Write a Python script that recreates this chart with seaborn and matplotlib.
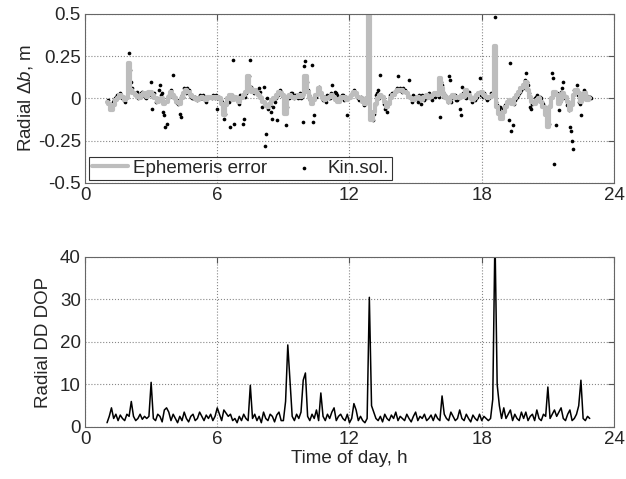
import numpy as np
import pandas as pd
import matplotlib
matplotlib.use('Agg')
import matplotlib.pyplot as plt
import seaborn as sns

# time of day grid, h (one value every 0.1 h, 1.0 ... 22.9)
t = np.round(np.arange(1.0, 22.95, 0.1), 2)

# ephemeris error, m
eph_err = [
    -0.02, -0.03, -0.07, -0.04, -0.01, 0.00, 0.02, 0.01, -0.01, 0.00,
    0.21, 0.05, 0.03, 0.02, 0.01, 0.00, 0.02, 0.03, 0.01, 0.04,
    0.04, 0.02, 0.00, -0.02, -0.01, 0.00, -0.03, -0.02, 0.01, 0.04,
    0.02, 0.00, -0.02, -0.03, 0.00, 0.03, 0.05, 0.04, 0.02, 0.01,
    0.00, -0.01, 0.00, 0.01, 0.00, -0.01, 0.01, 0.00, 0.01, 0.00,
    0.01, 0.00, -0.03, -0.10, -0.04, 0.00, 0.02, -0.01, 0.01, 0.00,
    -0.02, 0.00, 0.02, 0.04, 0.13, 0.06, 0.04, 0.05, 0.03, 0.02,
    0.00, -0.02, -0.04, -0.05, -0.03, -0.01, 0.00, 0.02, 0.04, 0.03,
    0.02, -0.09, 0.01, 0.02, 0.01, 0.00, 0.01, 0.02, 0.01, 0.02,
    0.13, 0.04, 0.00, -0.03, -0.01, 0.02, 0.06, 0.03, 0.00, -0.01,
    0.00, 0.01, 0.02, 0.01, -0.01, -0.02, 0.00, 0.01, 0.00, -0.01,
    0.00, 0.02, 0.04, 0.03, 0.01, 0.00, -0.02, -0.03, 0.00, 0.60,
    -0.13, -0.08, -0.03, 0.00, 0.02, 0.01, -0.02, -0.05, -0.03, 0.00,
    0.02, 0.04, 0.05, 0.05, 0.05, 0.04, 0.03, 0.01, 0.00, -0.01,
    0.00, 0.01, 0.00, -0.01, 0.01, 0.02, 0.00, 0.01, 0.02, 0.03,
    0.02, 0.12, 0.06, 0.02, 0.00, -0.02, 0.01, 0.02, 0.00, 0.01,
    0.00, 0.02, 0.01, 0.05, 0.02, 0.00, -0.01, 0.00, 0.02, 0.03,
    0.04, 0.02, 0.01, 0.00, 0.01, 0.02, 0.31, -0.05, -0.09, -0.12,
    -0.08, -0.05, -0.02, -0.01, -0.03, 0.00, 0.02, 0.04, 0.06, 0.08,
    0.10, 0.05, 0.01, -0.02, -0.03, -0.01, 0.00, -0.02, -0.05, -0.10,
    -0.17, -0.05, 0.00, 0.04, 0.02, -0.03, -0.01, 0.03, 0.01, -0.02,
    -0.07, -0.04, 0.02, 0.05, 0.03, -0.02, 0.01, 0.03, -0.01, 0.00,
]

# kinematic solution, m, at t
kin_a = [
    -0.02, -0.03, -0.04, -0.01, 0.01, 0.02, 0.03, 0.00, -0.02, 0.01,
    0.27, 0.10, 0.04, 0.03, 0.00, 0.02, 0.04, 0.01, 0.03, 0.02,
    0.10, 0.01, -0.02, -0.01, 0.08, 0.03, -0.10, -0.15, 0.02, 0.05,
    0.14, 0.01, -0.03, -0.09, 0.02, 0.06, 0.03, 0.05, 0.01, 0.00,
    0.01, -0.01, 0.02, 0.00, 0.01, -0.02, 0.00, 0.01, 0.02, 0.00,
    -0.06, 0.01, -0.02, -0.12, -0.03, 0.01, -0.17, 0.23, 0.00, -0.01,
    -0.03, 0.01, -0.12, 0.03, 0.10, 0.23, 0.05, 0.04, 0.03, 0.06,
    0.01, 0.07, -0.21, -0.06, -0.04, -0.12, -0.02, -0.13, 0.03, 0.04,
    0.01, -0.16, 0.02, 0.01, 0.03, 0.00, 0.02, 0.01, 0.00, -0.14,
    0.22, 0.05, -0.01, 0.20, -0.10, 0.01, 0.07, 0.02, -0.01, 0.00,
    0.02, 0.00, 0.08, 0.02, 0.03, -0.01, 0.01, 0.02, 0.00, -0.10,
    0.01, 0.03, 0.05, 0.02, 0.00, 0.01, -0.02, -0.03, -0.01, 0.28,
    -0.12, -0.09, 0.02, 0.05, 0.14, 0.01, -0.06, -0.08, -0.02, 0.01,
    0.03, 0.05, 0.13, 0.06, 0.04, 0.05, 0.03, 0.11, 0.00, 0.02,
    0.01, -0.02, 0.00, 0.02, -0.01, 0.01, 0.03, 0.00, 0.02, 0.01,
    0.03, -0.11, 0.08, 0.01, 0.00, 0.13, -0.02, 0.01, 0.02, -0.01,
    -0.06, 0.07, 0.02, 0.00, 0.04, 0.01, 0.00, -0.01, 0.01, 0.12,
    0.02, 0.03, 0.00, 0.01, 0.03, 0.02, 0.48, -0.04, -0.06, -0.08,
    -0.05, -0.03, -0.02, 0.21, -0.16, -0.01, 0.01, 0.03, 0.05, 0.07,
    0.15, 0.08, -0.05, -0.03, 0.00, 0.02, -0.01, 0.00, -0.03, -0.08,
    -0.13, -0.04, 0.15, -0.39, 0.03, -0.07, 0.04, 0.10, 0.00, -0.03,
    -0.17, -0.25, 0.05, 0.08, -0.02, -0.10, 0.03, 0.04, 0.00, 0.01,
]

# kinematic solution, m, at t + 0.05 h
kin_b = [
    -0.01, -0.05, -0.02, 0.00, 0.02, 0.01, 0.02, -0.01, 0.00, 0.03,
    0.17, 0.06, 0.02, 0.04, 0.01, 0.03, 0.02, 0.00, 0.02, 0.04,
    -0.06, 0.03, 0.00, 0.05, 0.02, -0.08, -0.17, 0.00, 0.03, 0.02,
    0.00, -0.02, -0.01, -0.11, 0.01, 0.04, 0.06, 0.02, 0.00, 0.01,
    0.00, 0.01, 0.00, 0.02, -0.01, 0.00, 0.01, 0.00, 0.01, 0.02,
    0.00, -0.01, -0.04, -0.09, 0.00, -0.02, 0.02, -0.15, 0.01, 0.00,
    0.02, -0.15, 0.01, 0.06, 0.13, 0.07, 0.03, 0.05, 0.02, 0.04,
    -0.05, -0.28, 0.00, -0.03, -0.08, -0.05, 0.00, 0.02, 0.05, 0.02,
    -0.02, -0.05, 0.00, 0.03, 0.01, 0.02, 0.00, 0.03, 0.01, 0.19,
    0.10, 0.02, -0.02, -0.14, 0.01, 0.04, 0.03, 0.00, 0.01, -0.02,
    0.00, 0.03, 0.01, 0.04, 0.02, 0.00, 0.02, -0.01, 0.01, 0.00,
    0.02, 0.04, 0.03, 0.01, -0.01, 0.00, -0.04, -0.02, 0.25, -0.10,
    -0.13, -0.04, 0.03, 0.00, 0.02, -0.03, -0.05, -0.03, 0.02, 0.03,
    0.04, 0.06, 0.05, 0.05, 0.06, 0.04, 0.02, 0.01, -0.02, 0.01,
    0.00, 0.02, -0.03, 0.01, 0.00, 0.02, 0.01, -0.01, 0.03, 0.02,
    0.01, 0.10, 0.04, 0.02, -0.02, 0.11, 0.00, 0.02, -0.01, 0.00,
    -0.10, 0.03, 0.01, 0.02, 0.00, -0.02, 0.01, 0.00, 0.03, 0.02,
    0.01, 0.02, -0.01, 0.00, 0.02, 0.22, -0.02, -0.07, -0.05, -0.06,
    -0.04, -0.02, -0.13, -0.19, -0.03, 0.00, 0.02, 0.04, 0.06, 0.11,
    0.10, 0.03, -0.06, -0.02, 0.01, 0.00, 0.01, -0.02, -0.05, -0.11,
    -0.15, 0.00, 0.12, -0.16, 0.01, -0.02, 0.06, 0.02, -0.04, -0.07,
    -0.19, -0.30, 0.03, 0.02, -0.03, 0.01, 0.05, 0.02, 0.01, 0.00,
]

# radial DD DOP at t (nan = gap)
dop = [
    1.0, 2.5, 4.5, 2.0, 3.0, 1.5, 2.8, 2.0, 1.5, 3.0,
    2.5, 6.0, 2.5, 1.5, 2.0, 3.0, 1.8, 2.5, 2.0, 2.5,
    10.5, 2.0, 1.5, 3.0, 2.5, 1.2, 4.0, 4.5, 3.5, 1.5,
    3.0, 2.0, 1.0, 2.5, 1.5, 3.5, 2.0, 1.2, 2.5, 3.0,
    1.5, 2.0, 3.5, 2.5, 1.5, 2.8, 2.0, 3.0, 1.5, 2.5,
    4.5, 3.0, 1.5, 4.0, np.nan, 2.5, 3.0, 1.5, 2.0, 1.0,
    2.5, 1.5, 3.0, 2.0, 1.5, 9.8, 2.0, 3.0, 1.5, 2.5,
    1.0, 3.5, 2.0, 1.5, 3.0, 2.5, 1.2, 2.8, 3.5, 1.5,
    1.5, 6.0, 19.3, np.nan, 2.5, 1.5, 3.0, 2.0, 3.5, 11.0,
    12.7, 2.5, 1.5, 3.0, 2.0, 4.0, 1.5, 8.0, 2.5, 1.5,
    3.0, 2.0, 3.5, 4.5, 1.5, 2.5, 3.0, 2.0, 1.5, 3.0,
    1.0, 2.0, 5.5, 4.0, 1.5, 2.5, 1.5, 1.0, 2.0, 30.5,
    5.0, np.nan, 2.0, 1.5, 2.5, 1.2, 3.0, 2.0, 1.5, 2.8,
    2.0, 3.5, 1.5, 2.5, 2.0, 1.5, 3.0, 2.0, 1.2, 2.5,
    3.5, 1.5, 2.5, 2.0, 3.0, 1.5, 2.0, 2.8, 1.5, 3.0,
    2.0, 1.5, 7.3, 3.0, 2.0, 1.5, 3.5, 2.5, 1.5, 2.0,
    4.0, 2.0, 1.5, 3.0, 2.0, 1.2, 2.8, 2.0, 1.5, 3.0,
    1.5, 2.5, 2.0, 1.5, 2.0, 6.5, 45.0, 10.0, 5.0, 2.0,
    4.5, 2.0, 3.0, 4.0, 1.5, 3.0, 2.0, 1.5, 3.5, 2.0,
    3.5, 1.5, 2.5, 3.0, 1.5, 4.0, 2.0, 1.5, 3.0, 2.5,
    9.4, 2.0, 3.0, 4.0, 2.5, 3.5, 4.5, 2.0, 1.5, 3.0,
    4.0, 1.5, 2.0, 3.0, 5.0, 11.0, 2.0, 1.5, 2.5, 2.0,
]

sns.set_style('white')
plt.rcParams['font.family'] = ['Liberation Sans', 'DejaVu Sans']
plt.rcParams['mathtext.fontset'] = 'custom'
plt.rcParams['mathtext.rm'] = 'Liberation Sans'
plt.rcParams['mathtext.it'] = 'Liberation Sans:italic'
plt.rcParams['font.size'] = 13.5

top = pd.DataFrame({'t': t, 'eph': eph_err})
kin = pd.DataFrame({'t': np.concatenate([t, t + 0.05]),
                    'kin': np.concatenate([kin_a, kin_b])})
bot = pd.DataFrame({'t': t, 'dop': dop})

fig = plt.figure(figsize=(6.26, 4.79), dpi=100)
ax1 = fig.add_axes([0.1358, 0.618, 0.845, 0.353])
ax2 = fig.add_axes([0.1358, 0.1086, 0.845, 0.355])

# grey ephemeris error drawn as steps, dots of the kinematic solution on top
sns.lineplot(data=top, x='t', y='eph', ax=ax1, color='#bdbdbd', lw=3,
             estimator=None, sort=False, drawstyle='steps-mid',
             label='Ephemeris error')
sns.scatterplot(data=kin, x='t', y='kin', ax=ax1, color='black', s=7,
                linewidth=0, label='Kin.sol.')
ax1.set_ylim(-0.5, 0.5)
ax1.set_yticks([-0.5, -0.25, 0, 0.25, 0.5])
ax1.set_yticklabels(['-0.5', '-0.25', '0', '0.25', '0.5'])
ax1.set_ylabel(r'Radial $\Delta b$, m', labelpad=2)
ax1.set_xlabel('')
leg = ax1.legend(loc='lower left', ncol=2, bbox_to_anchor=(0.008, 0.02),
                 borderaxespad=0, frameon=True, fancybox=False,
                 handlelength=1.9, handletextpad=0.3, columnspacing=1.0,
                 borderpad=0.15, markerscale=1.0)
leg.get_frame().set_edgecolor('black')
leg.get_frame().set_linewidth(0.8)

sns.lineplot(data=bot, x='t', y='dop', ax=ax2, color='black', lw=1.1,
             estimator=None, sort=False)
ax2.set_ylim(0, 40)
ax2.set_yticks([0, 10, 20, 30, 40])
ax2.set_ylabel('Radial DD DOP', labelpad=6)
ax2.set_xlabel('Time of day, h', labelpad=1)

for ax in (ax1, ax2):
    ax.set_xlim(0, 24)
    ax.set_xticks([0, 6, 12, 18, 24])
    ax.grid(True, linestyle=':', color='#888888', lw=0.8)
    ax.tick_params(direction='in', top=True, right=True, length=4,
                   color='#555555', labelsize=13.5, pad=3)
    for s in ax.spines.values():
        s.set_color('#666666')
        s.set_linewidth(0.8)

plt.savefig('out.png', dpi=100)
